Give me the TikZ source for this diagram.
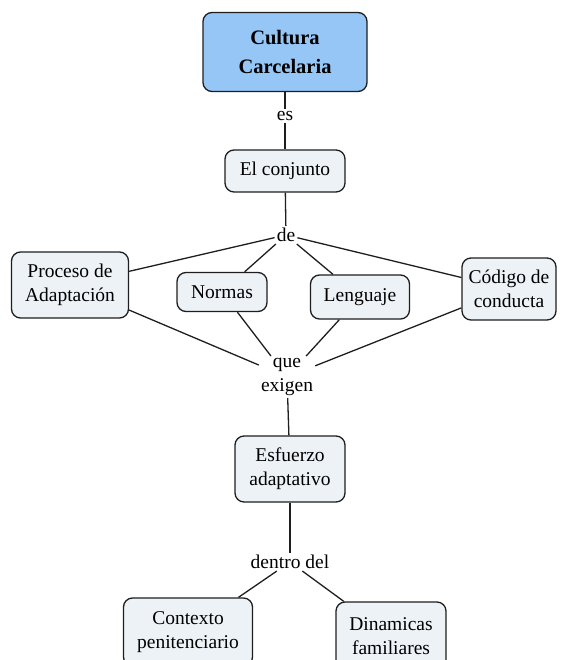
\documentclass[tikz,border=0pt]{standalone}
\usepackage{fontspec}
\setmainfont{Liberation Serif}
\usetikzlibrary{positioning}
\definecolor{topblue}{RGB}{150,198,245}
\definecolor{boxgray}{RGB}{236,242,246}
\definecolor{inkgray}{RGB}{30,30,30}

\begin{document}
\begin{tikzpicture}[x=1pt,y=-1pt,
  concept/.style={draw=inkgray,line width=1.3pt,rounded corners=9pt,fill=boxgray,
    align=center,inner sep=0pt,font=\fontsize{19.5}{24}\selectfont},
  linkword/.style={align=center,inner sep=2pt,fill=white,
    font=\fontsize{19.5}{24}\selectfont},
  edge/.style={draw=inkgray,line width=1.3pt}]
\useasboundingbox (0,0) rectangle (562,660);
\clip (0,0) rectangle (562,660);
% Concepts
\node[concept,fill=topblue,minimum width=164,minimum height=79,
  font=\fontsize{20.5}{29}\selectfont\bfseries] (cultura) at (285,52) {Cultura\\Carcelaria};
\node[concept,minimum width=120,minimum height=42] (conjunto) at (285,171) {El conjunto};
\node[concept,minimum width=117,minimum height=66] (proceso) at (70,285) {Proceso de\\Adaptación};
\node[concept,minimum width=90,minimum height=39] (normas) at (222,292) {Normas};
\node[concept,minimum width=99,minimum height=44] (lenguaje) at (360,297) {Lenguaje};
\node[concept,minimum width=94,minimum height=62] (codigo) at (509,289) {Código de\\conducta};
\node[concept,minimum width=110,minimum height=66] (esfuerzo) at (290,469) {Esfuerzo\\adaptativo};
\node[concept,minimum width=129,minimum height=68] (contexto) at (188,632) {Contexto\\penitenciario};
\node[concept,minimum width=110,minimum height=68] (dinamicas) at (391,636) {Dinamicas\\familiares};
% Linking words
\node[linkword] (es) at (285,116) {es};
\node[linkword] (de) at (286,235) {de};
\node[linkword] (que) at (287,377) {que\\exigen};
\node[linkword] (dentro) at (290,562) {dentro del};
% Connections
\path[edge] (cultura) -- (es) -- (conjunto);
\path[edge] (conjunto) -- (de);
\foreach \n in {proceso,normas,lenguaje,codigo}
  \path[edge] (de) -- (\n) (\n) -- (que);
\path[edge] (que) -- (esfuerzo);
\path[edge] (esfuerzo) -- (dentro);
\path[edge] (dentro) -- (contexto) (dentro) -- (dinamicas);
\end{tikzpicture}
\end{document}
